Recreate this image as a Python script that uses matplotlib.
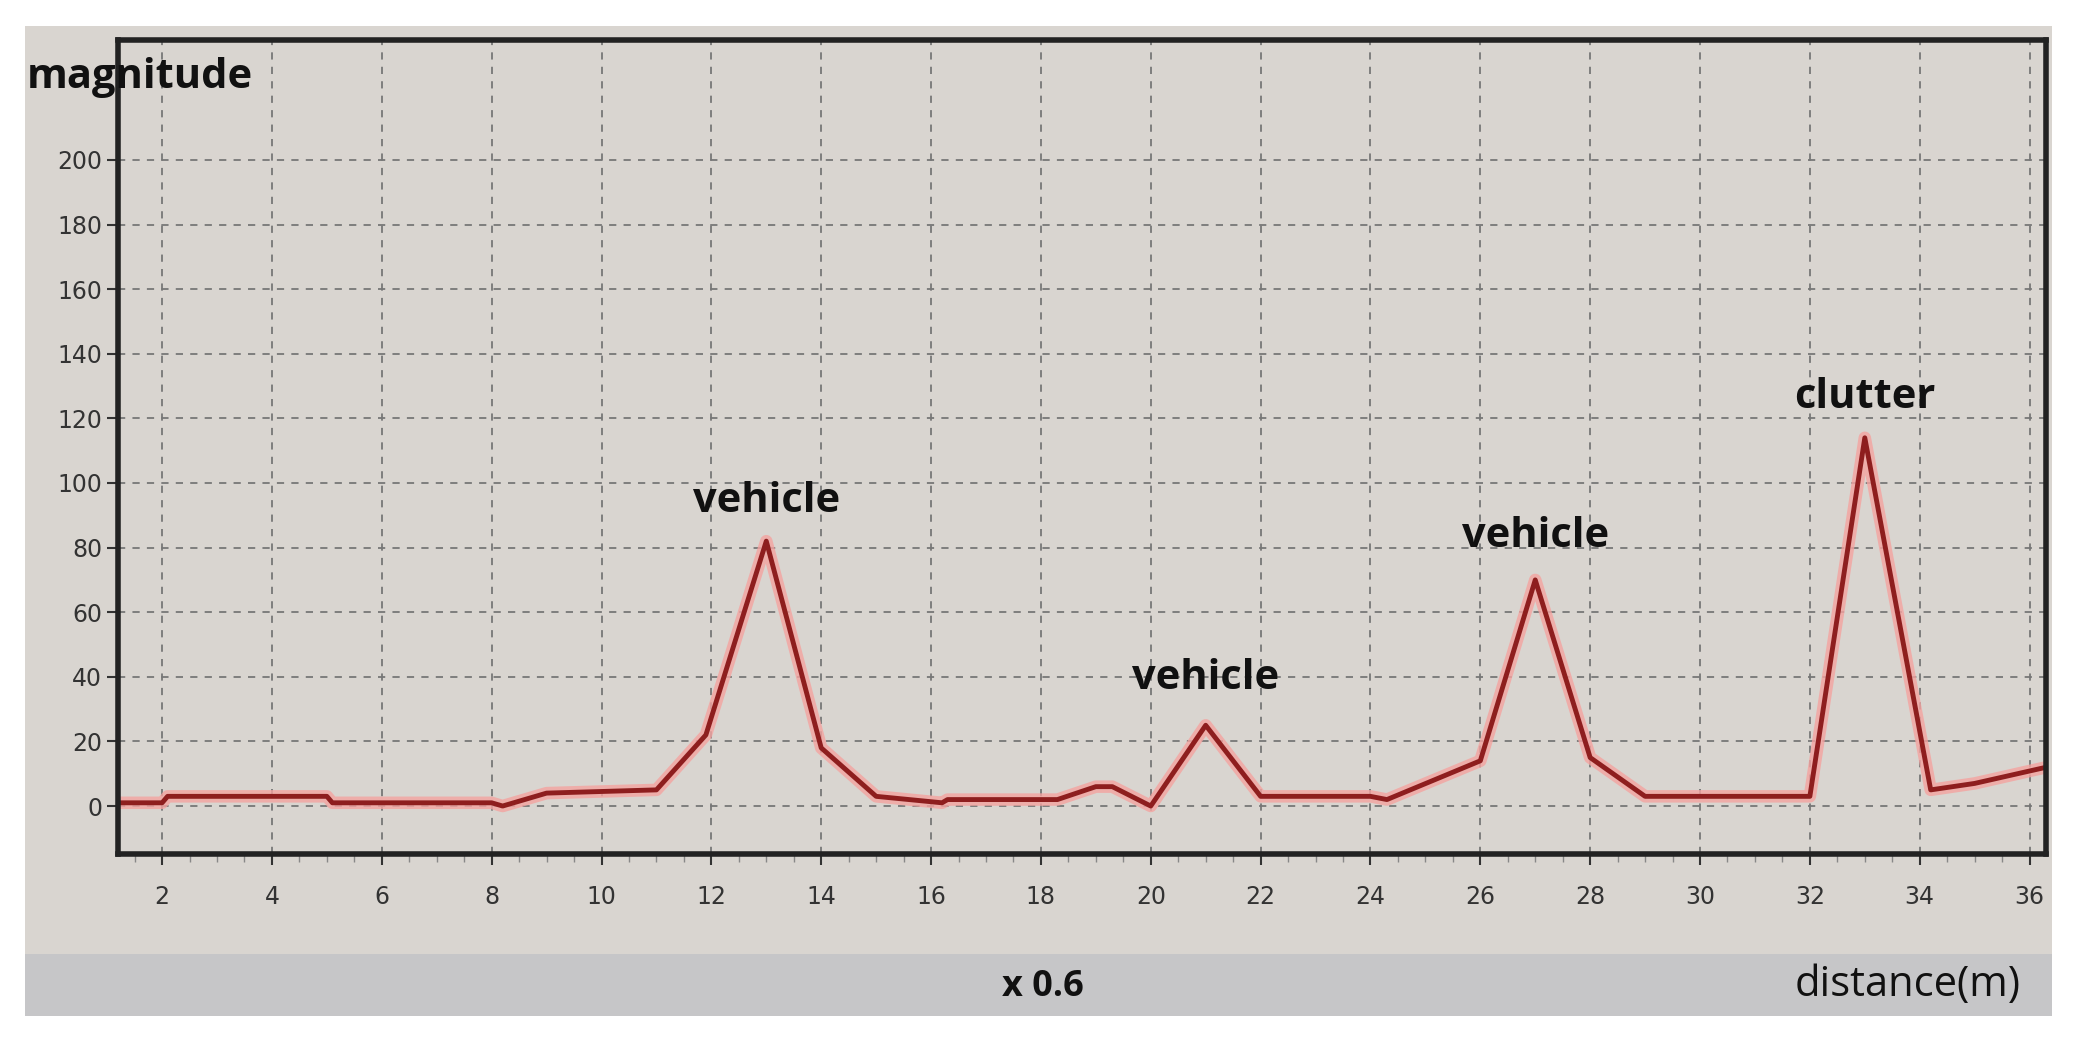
import matplotlib
matplotlib.use("Agg")
import matplotlib.pyplot as plt
from matplotlib.patches import Rectangle

dist = [1.2, 2.0, 2.1, 5.0, 5.1, 8.0, 8.2, 9.0, 11.0, 11.9, 13.0, 14.0, 15.0, 16.2, 16.3, 18.3, 19.0, 19.3,
        20.0, 21.0, 22.0, 24.0, 24.3, 26.0, 27.0, 28.0, 29.0, 32.0, 33.0, 34.2, 35.0, 36.3]
mag = [1, 1, 3, 3, 1, 1, 0, 4, 5, 22, 82, 18, 3, 1, 2, 2, 6, 6,
       0, 25, 3, 3, 2, 14, 70, 15, 3, 3, 114, 5, 7, 12]
labels = ["vehicle", "vehicle", "vehicle", "clutter"]
label_x = [13, 21, 27, 33]
label_y = [88, 33, 77, 120]
xticks = list(range(2, 37, 2))
yticks = list(range(0, 201, 20))

fig = plt.figure(figsize=(20.73, 10.37), dpi=100)
fig.patch.set_facecolor("white")
bg = fig.add_axes([0, 0, 1, 1], zorder=-10)
bg.set_xlim(0, 1)
bg.set_ylim(0, 1)
bg.axis("off")
bg.add_patch(Rectangle((0.012, 0.02), 0.978, 0.955, facecolor="#d9d5d0", edgecolor="none"))
bg.add_patch(Rectangle((0.012, 0.02), 0.978, 0.06, facecolor="#c6c6c8", edgecolor="none"))

ax = fig.add_axes([0.057, 0.176, 0.93, 0.785])
ax.set_facecolor("#d9d5d0")
ax.set_xlim(1.2, 36.3)
ax.set_ylim(-15, 237)
ax.plot(dist, mag, color="#f4a3a0", lw=9, alpha=0.8)
ax.plot(dist, mag, color="#8e1e1e", lw=3.5)
ax.set_xticks(xticks)
ax.set_yticks(yticks)
ax.set_xticks([x / 2 for x in range(3, 73)], minor=True)
ax.grid(True, which="major", color="#777777", ls=(0, (4, 4)), lw=1.3)
ax.tick_params(axis="both", which="major", labelsize=17, colors="#333333", length=8, width=1.5)
ax.tick_params(axis="x", which="minor", length=6, width=1, colors="#888888")
ax.tick_params(axis="x", pad=14)
for s in ax.spines.values():
    s.set_linewidth(4)
    s.set_color("#222222")

for t, x, y in zip(labels, label_x, label_y):
    ax.text(x, y, t, ha="center", va="bottom", fontsize=30, fontweight="bold",
            family="Open Sans", color="#111111")

fig.text(0.013, 0.915, "magnitude", fontsize=30, fontweight="bold", family="Open Sans", color="#111111")
fig.text(0.503, 0.04, "x 0.6", fontsize=26, fontweight="bold", family="Open Sans", ha="center", color="#111111")
fig.text(0.92, 0.04, "distance(m)", fontsize=30, family="Open Sans", ha="center", color="#111111")

fig.savefig("out.png", dpi=100, facecolor="white")
